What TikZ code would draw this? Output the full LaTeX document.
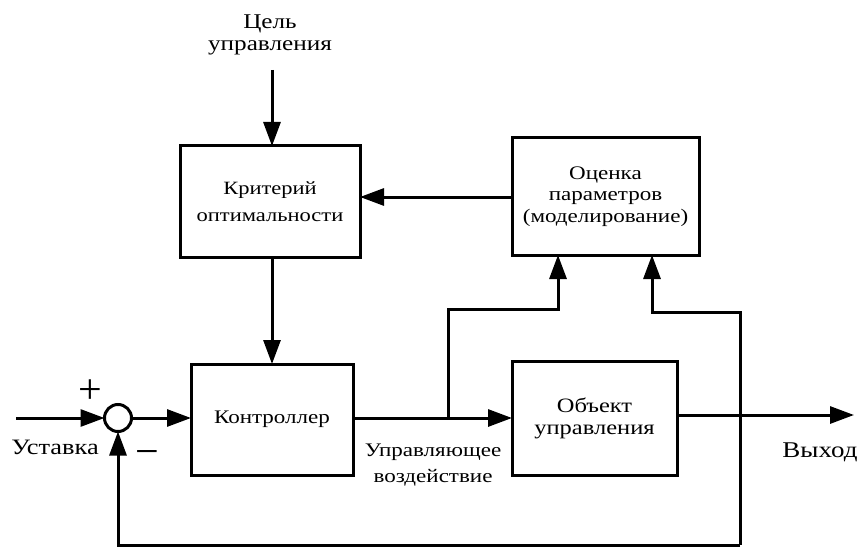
\documentclass[tikz,border=0pt]{standalone}
\usepackage{fontspec}
\setmainfont[FakeStretch=1.2]{Liberation Serif}
\newfontfamily\symfont{Liberation Serif}
\usetikzlibrary{arrows.meta,calc}
\newcommand{\fsz}[2]{\fontsize{#1}{#2}\selectfont}
\begin{document}
\begin{tikzpicture}[x=1pt,y=-1pt,
  blk/.style={draw,line width=3pt,minimum width=#1,inner sep=0pt,outer sep=0pt,align=center},
  conn/.style={line width=3pt,-{Triangle[length=24pt,width=17pt]}},
  lbl/.style={align=center,inner sep=0pt}]
\useasboundingbox (0,0) rectangle (861,548);
\node[blk=180pt,minimum height=111pt,font=\fsz{18.75}{27}] (crit) at (270,201.5) {Критерий\\оптимальности};
\node[blk=187pt,minimum height=117pt,font=\fsz{19.2}{21.5}] (est) at (605.5,196.5) {Оценка\\параметров\\(моделирование)};
\node[blk=162pt,minimum height=111pt,font=\fsz{19.2}{26}] (ctrl) at (272,419.5) {Контроллер};
\node[blk=165pt,minimum height=114pt,font=\fsz{20.4}{22}] (obj) at (594.5,418) {Объект\\управления};
\node[draw,circle,line width=3pt,minimum size=27pt,inner sep=0pt,outer sep=0pt] (sum) at (118,418) {};
\node[lbl,font=\fsz{21}{21.5}] (goal) at (270,35) {Цель\\управления};
\node[lbl,font=\fsz{22}{30}] (setp) at (55,447) {Уставка};
\node[lbl,font=\fsz{22.5}{30}] (out) at (820,452) {Выход};
\node[lbl,font=\fsz{19.2}{26}] (uctl) at (433,465) {Управляющее\\воздействие};
\node[lbl,font=\symfont\fsz{42}{42}] (plus) at (90,392) {+};
\node[lbl,font=\symfont\fsz{42}{42}] (minus) at (147,458) {−};
% coordinates
\coordinate (inL) at (16,418);
\coordinate (goalTop) at (272,70);
\coordinate (br) at (448,418);
\coordinate (brT) at (448,309);
\coordinate (brR) at (558,309);
\coordinate (outS) at (677,415);
\coordinate (outE) at (854,415);
\coordinate (fbA) at (652,312);
\coordinate (fbB) at (740,312);
\coordinate (fbC) at (740,545);
\coordinate (fbD) at (118,545);
% connectors
\draw[conn] (goalTop) -- (goalTop |- crit.north);
\draw[conn] (est.west |- 0,197) -- (crit.east |- 0,197);
\draw[conn] (272,257) -- (ctrl.north);
\draw[conn] (inL) -- (sum.west);
\draw[conn] (sum.east) -- (ctrl.west |- sum.east);
\draw[conn] (ctrl.east |- obj.west) -- (obj.west);
\draw[conn] (br) -- (brT) -- (brR) -- (brR |- est.south);
\draw[conn] (outS) -- (outE);
\draw[conn] (fbC) -- (fbB) -- (fbA) -- (fbA |- est.south);
\draw[conn] (fbC) -- (fbD) -- (sum.south);
\end{tikzpicture}
\end{document}
